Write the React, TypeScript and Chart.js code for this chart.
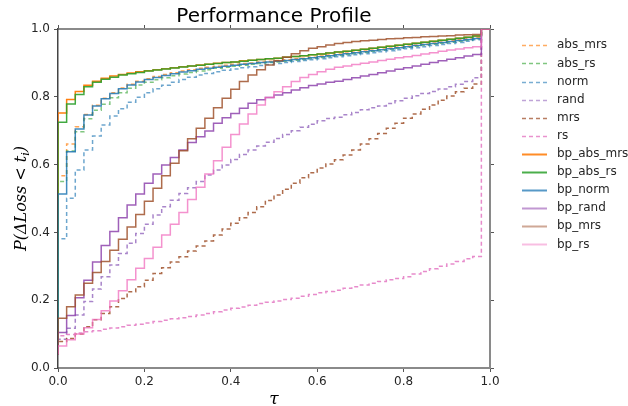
import React, { useEffect, useRef } from "react";
import { Chart, registerables } from "chart.js";

Chart.register(...registerables);

// tau grid (step starts)
const tauSteps = [
  0.0, 0.02, 0.04, 0.06, 0.08, 0.1, 0.12, 0.14, 0.16, 0.18,
  0.2, 0.22, 0.24, 0.26, 0.28, 0.3, 0.32, 0.34, 0.36, 0.38,
  0.4, 0.42, 0.44, 0.46, 0.48, 0.5, 0.52, 0.54, 0.56, 0.58,
  0.6, 0.62, 0.64, 0.66, 0.68, 0.7, 0.72, 0.74, 0.76, 0.78,
  0.8, 0.82, 0.84, 0.86, 0.88, 0.9, 0.92, 0.94, 0.96,
];
const endTau = [0.98, 1.0];
const endValue = 1.0;
const startValue = 0.04;

const seriesNames = [
  "abs_mrs", "abs_rs", "norm", "rand", "mrs", "rs",
  "bp_abs_mrs", "bp_abs_rs", "bp_norm", "bp_rand", "bp_mrs", "bp_rs",
];

const absMrs = [
  0.567, 0.661, 0.712, 0.748, 0.775, 0.796, 0.812, 0.826, 0.837, 0.846,
  0.853, 0.860, 0.866, 0.871, 0.876, 0.880, 0.884, 0.887, 0.890, 0.893,
  0.896, 0.898, 0.900, 0.903, 0.905, 0.907, 0.909, 0.912, 0.914, 0.917,
  0.920, 0.923, 0.926, 0.929, 0.932, 0.935, 0.938, 0.941, 0.944, 0.947,
  0.950, 0.953, 0.956, 0.959, 0.962, 0.965, 0.968, 0.971, 0.974,
];
const absRs = [
  0.550, 0.640, 0.697, 0.735, 0.760, 0.778, 0.797, 0.812, 0.825, 0.835,
  0.843, 0.850, 0.856, 0.862, 0.867, 0.872, 0.876, 0.880, 0.884, 0.887,
  0.890, 0.893, 0.896, 0.898, 0.901, 0.903, 0.905, 0.908, 0.910, 0.913,
  0.916, 0.919, 0.922, 0.925, 0.928, 0.931, 0.934, 0.937, 0.940, 0.943,
  0.946, 0.949, 0.952, 0.955, 0.958, 0.961, 0.964, 0.967, 0.971,
];
const norm = [
  0.381, 0.501, 0.584, 0.643, 0.684, 0.717, 0.743, 0.765, 0.784, 0.799,
  0.812, 0.824, 0.834, 0.843, 0.851, 0.858, 0.864, 0.869, 0.874, 0.878,
  0.882, 0.886, 0.889, 0.892, 0.895, 0.898, 0.901, 0.904, 0.907, 0.909,
  0.912, 0.915, 0.918, 0.921, 0.924, 0.927, 0.930, 0.933, 0.936, 0.939,
  0.942, 0.945, 0.948, 0.951, 0.954, 0.957, 0.960, 0.964, 0.968,
];
const rand = [
  0.085, 0.117, 0.156, 0.196, 0.233, 0.269, 0.304, 0.338, 0.368, 0.397,
  0.424, 0.451, 0.476, 0.495, 0.515, 0.532, 0.550, 0.569, 0.584, 0.599,
  0.615, 0.630, 0.643, 0.655, 0.666, 0.677, 0.689, 0.700, 0.710, 0.719,
  0.729, 0.736, 0.740, 0.747, 0.754, 0.762, 0.768, 0.773, 0.780, 0.788,
  0.796, 0.803, 0.810, 0.816, 0.823, 0.830, 0.837, 0.845, 0.856,
];
const mrs = [
  0.078, 0.087, 0.100, 0.122, 0.142, 0.161, 0.181, 0.205, 0.225, 0.240,
  0.259, 0.279, 0.296, 0.313, 0.328, 0.345, 0.360, 0.375, 0.392, 0.410,
  0.427, 0.443, 0.459, 0.476, 0.494, 0.510, 0.527, 0.545, 0.561, 0.576,
  0.590, 0.602, 0.614, 0.628, 0.643, 0.661, 0.676, 0.692, 0.707, 0.722,
  0.737, 0.749, 0.763, 0.776, 0.790, 0.802, 0.815, 0.825, 0.838,
];
const rs = [
  0.095, 0.099, 0.103, 0.107, 0.110, 0.114, 0.118, 0.122, 0.126, 0.129,
  0.133, 0.137, 0.141, 0.145, 0.148, 0.152, 0.156, 0.161, 0.166, 0.171,
  0.176, 0.180, 0.185, 0.190, 0.194, 0.198, 0.202, 0.206, 0.212, 0.217,
  0.222, 0.226, 0.229, 0.235, 0.240, 0.245, 0.250, 0.255, 0.260, 0.264,
  0.269, 0.277, 0.285, 0.293, 0.300, 0.307, 0.314, 0.322, 0.329,
];
const bpAbsMrs = [
  0.752, 0.792, 0.816, 0.834, 0.846, 0.855, 0.861, 0.866, 0.870, 0.874,
  0.877, 0.880, 0.883, 0.886, 0.889, 0.891, 0.894, 0.896, 0.899, 0.901,
  0.903, 0.906, 0.908, 0.910, 0.912, 0.914, 0.917, 0.919, 0.921, 0.924,
  0.926, 0.929, 0.932, 0.934, 0.937, 0.940, 0.943, 0.946, 0.949, 0.952,
  0.955, 0.958, 0.961, 0.964, 0.967, 0.970, 0.973, 0.976, 0.979,
];
const bpAbsRs = [
  0.725, 0.779, 0.807, 0.830, 0.843, 0.852, 0.858, 0.864, 0.868, 0.872,
  0.876, 0.879, 0.882, 0.885, 0.888, 0.891, 0.893, 0.896, 0.898, 0.901,
  0.903, 0.905, 0.908, 0.910, 0.912, 0.914, 0.917, 0.919, 0.921, 0.924,
  0.926, 0.929, 0.932, 0.934, 0.937, 0.940, 0.943, 0.946, 0.949, 0.952,
  0.955, 0.958, 0.961, 0.964, 0.967, 0.970, 0.973, 0.976, 0.979,
];
const bpNorm = [
  0.513, 0.638, 0.705, 0.746, 0.773, 0.794, 0.810, 0.824, 0.835, 0.844,
  0.851, 0.857, 0.863, 0.868, 0.873, 0.877, 0.881, 0.884, 0.887, 0.890,
  0.893, 0.896, 0.898, 0.901, 0.903, 0.905, 0.907, 0.910, 0.912, 0.915,
  0.918, 0.921, 0.924, 0.927, 0.930, 0.933, 0.936, 0.939, 0.942, 0.945,
  0.948, 0.951, 0.954, 0.957, 0.960, 0.963, 0.966, 0.969, 0.972,
];
const bpRand = [
  0.105, 0.155, 0.207, 0.259, 0.313, 0.361, 0.403, 0.443, 0.481, 0.513,
  0.545, 0.572, 0.599, 0.621, 0.643, 0.665, 0.682, 0.699, 0.722, 0.738,
  0.751, 0.766, 0.781, 0.791, 0.798, 0.805, 0.812, 0.820, 0.827, 0.833,
  0.838, 0.843, 0.846, 0.851, 0.856, 0.861, 0.866, 0.871, 0.876, 0.881,
  0.886, 0.891, 0.896, 0.901, 0.906, 0.911, 0.915, 0.920, 0.925,
];
const bpMrs = [
  0.147, 0.181, 0.215, 0.250, 0.282, 0.314, 0.347, 0.380, 0.416, 0.453,
  0.492, 0.530, 0.567, 0.604, 0.641, 0.676, 0.707, 0.737, 0.768, 0.796,
  0.822, 0.845, 0.864, 0.880, 0.894, 0.906, 0.917, 0.927, 0.936, 0.943,
  0.948, 0.953, 0.957, 0.960, 0.963, 0.965, 0.967, 0.969, 0.971, 0.972,
  0.974, 0.975, 0.977, 0.978, 0.979, 0.980, 0.982, 0.983, 0.984,
];
const bpRs = [
  0.065, 0.083, 0.100, 0.119, 0.143, 0.169, 0.198, 0.228, 0.260, 0.294,
  0.323, 0.356, 0.392, 0.424, 0.459, 0.497, 0.533, 0.572, 0.611, 0.651,
  0.689, 0.720, 0.749, 0.776, 0.798, 0.815, 0.830, 0.845, 0.857, 0.866,
  0.874, 0.881, 0.887, 0.891, 0.895, 0.899, 0.903, 0.907, 0.911, 0.915,
  0.918, 0.922, 0.926, 0.930, 0.934, 0.938, 0.941, 0.945, 0.948,
];

const seriesValues = [absMrs, absRs, norm, rand, mrs, rs, bpAbsMrs, bpAbsRs, bpNorm, bpRand, bpMrs, bpRs];

const seriesRgb = [
  "255,127,14", "44,160,44", "31,119,180", "148,103,189", "160,82,45", "227,119,194",
  "255,127,14", "44,160,44", "31,119,180", "142,68,173", "160,82,45", "240,110,190",
];
const lineAlpha = [0.7, 0.6, 0.65, 0.8, 0.85, 0.85, 1.0, 0.9, 0.85, 0.85, 0.85, 0.75];
const legendAlpha = [0.65, 0.6, 0.6, 0.6, 0.75, 0.8, 0.9, 0.85, 0.75, 0.55, 0.5, 0.45];
const seriesDashed = [true, true, true, true, true, true, false, false, false, false, false, false];

const xTicks = [0, 0.2, 0.4, 0.6, 0.8, 1.0];
const yTicks = [0, 0.2, 0.4, 0.6, 0.8, 1.0];

const TITLE = "Performance Profile";
const DASH = [4, 3];

const textPlugin = {
  id: "textPlugin",
  afterDraw(chart: any) {
    const ctx = chart.ctx;
    const area = chart.chartArea;
    ctx.save();
    ctx.fillStyle = "#000";
    ctx.font = '20px "DejaVu Sans"';
    ctx.textAlign = "center";
    ctx.textBaseline = "alphabetic";
    ctx.fillText(TITLE, (area.left + area.right) / 2, 21.5);

    ctx.font = 'italic 17px "DejaVu Serif"';
    ctx.fillText("τ", (area.left + area.right) / 2, 404);

    const main = "P(ΔLoss < t";
    const sub = "i";
    const close = ")";
    ctx.font = 'italic 16px "DejaVu Serif"';
    const wMain = ctx.measureText(main).width;
    const wClose = ctx.measureText(close).width;
    ctx.font = 'italic 11px "DejaVu Serif"';
    const wSub = ctx.measureText(sub).width;
    const total = wMain + wSub + wClose;
    ctx.translate(26, (area.top + area.bottom) / 2);
    ctx.rotate(-Math.PI / 2);
    ctx.textAlign = "left";
    let x = -total / 2;
    ctx.font = 'italic 16px "DejaVu Serif"';
    ctx.fillText(main, x, 0);
    x += wMain;
    ctx.font = 'italic 11px "DejaVu Serif"';
    ctx.fillText(sub, x, 3);
    x += wSub;
    ctx.font = 'italic 16px "DejaVu Serif"';
    ctx.fillText(close, x, 0);
    ctx.restore();

    ctx.save();
    ctx.font = '12px "DejaVu Sans"';
    ctx.textAlign = "left";
    ctx.textBaseline = "middle";
    seriesNames.forEach((name, i) => {
      const y = 45.3 + 18.1 * i;
      const ly = Math.round(y) + 0.5;
      ctx.beginPath();
      ctx.strokeStyle = `rgba(${seriesRgb[i]},${legendAlpha[i]})`;
      ctx.lineWidth = seriesDashed[i] ? 1.5 : 2;
      ctx.setLineDash(seriesDashed[i] ? DASH : []);
      ctx.moveTo(522, ly);
      ctx.lineTo(547, ly);
      ctx.stroke();
      ctx.setLineDash([]);
      ctx.fillStyle = "#262626";
      ctx.fillText(name, 557, y);
    });
    ctx.restore();
  },
};

export default function App() {
  const ref = useRef<HTMLCanvasElement | null>(null);
  useEffect(() => {
    if (!ref.current) return;
    Chart.defaults.font.family = '"DejaVu Sans"';
    const datasets = seriesNames.map((name, i) => {
      const pts = [{ x: tauSteps[0], y: startValue }]
        .concat(tauSteps.map((t, k) => ({ x: t, y: seriesValues[i][k] })))
        .concat(endTau.map((t) => ({ x: t, y: endValue })));
      const color = `rgba(${seriesRgb[i]},${lineAlpha[i]})`;
      return {
        label: name,
        data: pts,
        borderColor: color,
        backgroundColor: color,
        borderWidth: 1.5,
        borderDash: seriesDashed[i] ? DASH : [],
        pointRadius: 0,
        stepped: "before" as const,
        fill: false,
        order: seriesNames.length - i,
      };
    });
    const tickFmt = (v: any) => Number(v).toFixed(1);
    const gridOpts = { drawOnChartArea: false, drawTicks: true, tickLength: 4, tickColor: "#555", tickWidth: 1 };
    const border = { color: "#8a8a8a", width: 2 };
    const chart = new Chart(ref.current, {
      type: "line",
      data: { datasets },
      options: {
        responsive: false,
        animation: false,
        devicePixelRatio: 1,
        layout: { padding: 0 },
        plugins: { legend: { display: false }, title: { display: false }, tooltip: { enabled: false } },
        scales: {
          x: {
            type: "linear", position: "bottom", min: 0, max: 1,
            afterBuildTicks: (s: any) => { s.ticks = xTicks.map((v) => ({ value: v })); },
            ticks: { callback: tickFmt, color: "#262626", font: { size: 12 }, padding: 3, maxRotation: 0 },
            grid: gridOpts, border,
            afterFit: (s: any) => { s.height = 38; },
          },
          x2: {
            type: "linear", position: "top", min: 0, max: 1,
            afterBuildTicks: (s: any) => { s.ticks = xTicks.map((v) => ({ value: v })); },
            ticks: { callback: tickFmt, color: "rgba(0,0,0,0)", font: { size: 12 } },
            grid: gridOpts, border,
            afterFit: (s: any) => { s.height = 29; },
          },
          y: {
            type: "linear", position: "left", min: 0, max: 1,
            afterBuildTicks: (s: any) => { s.ticks = yTicks.map((v) => ({ value: v })); },
            ticks: { callback: tickFmt, color: "#262626", font: { size: 12 }, padding: 4 },
            grid: gridOpts, border: { color: "#444", width: 1.5 },
            afterFit: (s: any) => { s.width = 58; },
          },
          y2: {
            type: "linear", position: "right", min: 0, max: 1,
            afterBuildTicks: (s: any) => { s.ticks = yTicks.map((v) => ({ value: v })); },
            ticks: { callback: tickFmt, color: "rgba(0,0,0,0)", font: { size: 12 } },
            grid: gridOpts, border,
            afterFit: (s: any) => { s.width = 138; },
          },
        },
      },
      plugins: [textPlugin],
    });
    return () => chart.destroy();
  }, []);
  return (
    <div style={{ position: "fixed", left: 0, top: 0, width: 628, height: 406, background: "#fff" }}>
      <canvas ref={ref} width={628} height={406} style={{ display: "block", width: 628, height: 406 }} />
    </div>
  );
}
